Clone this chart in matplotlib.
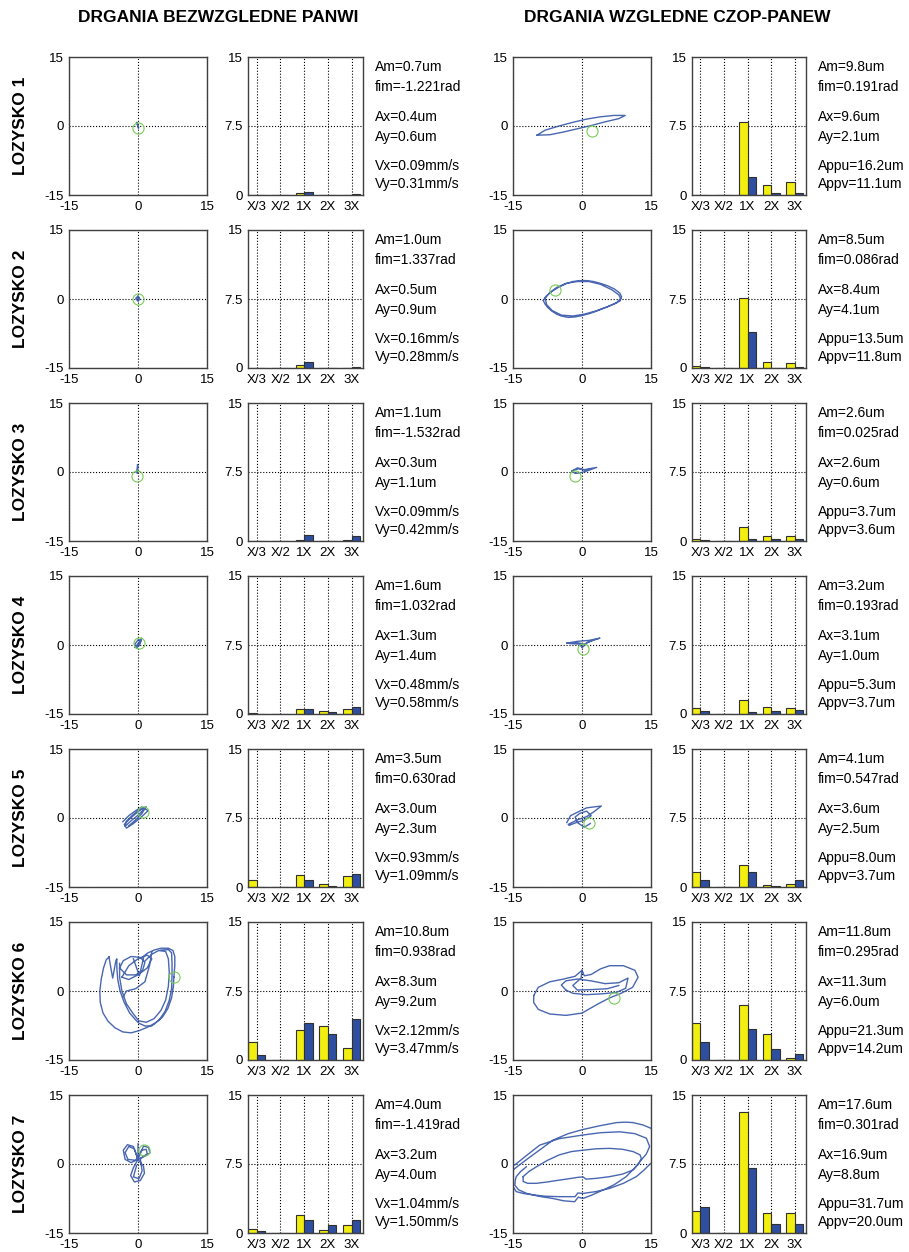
import numpy as np
import matplotlib.pyplot as plt

plt.rcParams['font.family'] = ['Liberation Sans', 'DejaVu Sans']
plt.rcParams['axes.unicode_minus'] = False

# ---- data -------------------------------------------------------------
harm_labels = ['X/3', 'X/2', '1X', '2X', '3X']
row_labels = ['LOZYSKO 1', 'LOZYSKO 2', 'LOZYSKO 3', 'LOZYSKO 4',
              'LOZYSKO 5', 'LOZYSKO 6', 'LOZYSKO 7']

# bar heights, absolute (panew) -- yellow / blue
abs_yellow = [[0, 0, 0.25, 0, 0.05],
              [0, 0, 0.35, 0.03, 0.05],
              [0, 0, 0.08, 0.05, 0.08],
              [0.12, 0, 0.5, 0.35, 0.55],
              [0.73, 0, 1.27, 0.3, 1.16],
              [2.0, 0, 3.3, 3.75, 1.27],
              [0.4, 0, 1.93, 0.3, 0.84]]
abs_blue = [[0, 0, 0.36, 0, 0.08],
            [0, 0, 0.7, 0.05, 0.08],
            [0, 0, 0.6, 0.05, 0.54],
            [0.05, 0, 0.5, 0.2, 0.8],
            [0, 0, 0.73, 0.1, 1.38],
            [0.55, 0, 4.04, 2.87, 4.5],
            [0.22, 0, 1.38, 0.84, 1.38]]
# bar heights, relative (czop-panew)
rel_yellow = [[0, 0, 7.93, 1.05, 1.38],
              [0.2, 0, 7.58, 0.7, 0.56],
              [0.18, 0, 1.55, 0.5, 0.55],
              [0.6, 0, 1.55, 0.75, 0.65],
              [1.67, 0, 2.4, 0.18, 0.3],
              [4.04, 0, 5.96, 2.8, 0.18],
              [2.4, 0, 13.2, 2.18, 2.18]]
rel_blue = [[0, 0, 1.92, 0.25, 0.25],
            [0.1, 0, 3.95, 0.05, 0.1],
            [0.07, 0, 0.22, 0.2, 0.25],
            [0.3, 0, 0.25, 0.35, 0.45],
            [0.73, 0, 1.64, 0.07, 0.73],
            [2.0, 0, 3.38, 1.16, 0.62],
            [2.84, 0, 7.1, 0.98, 0.98]]

abs_text = [['Am=0.7um', 'fim=-1.221rad', 'Ax=0.4um', 'Ay=0.6um', 'Vx=0.09mm/s', 'Vy=0.31mm/s'],
            ['Am=1.0um', 'fim=1.337rad', 'Ax=0.5um', 'Ay=0.9um', 'Vx=0.16mm/s', 'Vy=0.28mm/s'],
            ['Am=1.1um', 'fim=-1.532rad', 'Ax=0.3um', 'Ay=1.1um', 'Vx=0.09mm/s', 'Vy=0.42mm/s'],
            ['Am=1.6um', 'fim=1.032rad', 'Ax=1.3um', 'Ay=1.4um', 'Vx=0.48mm/s', 'Vy=0.58mm/s'],
            ['Am=3.5um', 'fim=0.630rad', 'Ax=3.0um', 'Ay=2.3um', 'Vx=0.93mm/s', 'Vy=1.09mm/s'],
            ['Am=10.8um', 'fim=0.938rad', 'Ax=8.3um', 'Ay=9.2um', 'Vx=2.12mm/s', 'Vy=3.47mm/s'],
            ['Am=4.0um', 'fim=-1.419rad', 'Ax=3.2um', 'Ay=4.0um', 'Vx=1.04mm/s', 'Vy=1.50mm/s']]
rel_text = [['Am=9.8um', 'fim=0.191rad', 'Ax=9.6um', 'Ay=2.1um', 'Appu=16.2um', 'Appv=11.1um'],
            ['Am=8.5um', 'fim=0.086rad', 'Ax=8.4um', 'Ay=4.1um', 'Appu=13.5um', 'Appv=11.8um'],
            ['Am=2.6um', 'fim=0.025rad', 'Ax=2.6um', 'Ay=0.6um', 'Appu=3.7um', 'Appv=3.6um'],
            ['Am=3.2um', 'fim=0.193rad', 'Ax=3.1um', 'Ay=1.0um', 'Appu=5.3um', 'Appv=3.7um'],
            ['Am=4.1um', 'fim=0.547rad', 'Ax=3.6um', 'Ay=2.5um', 'Appu=8.0um', 'Appv=3.7um'],
            ['Am=11.8um', 'fim=0.295rad', 'Ax=11.3um', 'Ay=6.0um', 'Appu=21.3um', 'Appv=14.2um'],
            ['Am=17.6um', 'fim=0.301rad', 'Ax=16.9um', 'Ay=8.8um', 'Appu=31.7um', 'Appv=20.0um']]

# orbit traces (um); nan = pen up
nan = np.nan
abs_orb_x = [
    [-0.3, -0.1, 0.1, 0.15, -0.05, -0.25, -0.3],
    [-0.4, 0.0, 0.4, 0.0, -0.4, 0.3, -0.2],
    [-0.1, -0.25, -0.15, 0.0, -0.1],
    [-0.6, 0.2, 0.8, 0.5, -0.3, -0.7, 0.1, 0.6, 0.2, -0.4, -0.6],
    [-3.3, -2.0, -0.5, 0.8, 2.2, 0.5, -1.0, -2.5, -3.0, -1.6, -0.2, 1.2, 1.8, 0.0, -1.5,
     -2.8, -2.6, -1.2, 0.3, 1.6, 0.8, -0.5, -2.0],
    [7.8, 8.0, 8.0, 7.6, 6.6, 5.0, 3.5, 2.0, 0.8, nan,
     -6.3, -6.9, -7.5, -8.0, -8.3, -8.2, -7.6, -6.5, -5.0, -3.3, -1.5, 0.3, 2.0, 3.7, 5.3,
     6.5, 7.3, 7.7, 7.8, nan,
     -6.3, -5.9, -5.5, -5.2, -4.8, -4.6, -4.6, -4.4, -3.9, -3.0, -1.8, -0.5, 0.2, 1.5, 3.0,
     4.6, 5.9, 6.8, 7.3, 7.4, 7.4, 7.3, 6.6, 5.0, nan,
     -4.0, -4.0, -3.5, -2.5, -1.0, 0.2, 1.8, 3.5, 5.0, 6.0, 6.6, 6.8, 6.6, 6.0, 4.5, 3.0,
     1.5, nan,
     -4.0, -3.2, -1.5, 0.5, 1.5, 1.0, -0.5, -2.5, -4.0, nan,
     -3.5, -2.0, 0.0, 2.0, 3.0, 2.0, 0.0, -2.0, -3.5, nan,
     -1.0, 0.3, 1.2, nan,
     3.0, 2.5, 1.5, -0.5, -2.5, -3.2],
    [0.0, 0.0, -1.0, -2.3, -3.2, -2.8, -1.5, 0.0, 1.2, 2.3, 2.6, 1.5, 0.0, 1.2, 1.4, 0.5,
     -0.8, -1.6, -1.0, 0.0, -0.8, -2.0, -2.8, -2.2, -0.5, 0.8, 1.8, 2.0, 0.5, 0.9, 0.2,
     -1.0, -0.3],
]
abs_orb_y = [
    [0.7, 0.1, -0.5, -0.4, 0.2, 0.8, 0.7],
    [0.2, 0.7, 0.0, -0.5, 0.2, 0.3, -0.2],
    [1.5, 0.2, -0.3, 1.2, 1.5],
    [-0.5, 0.6, 1.5, 0.4, -0.7, 0.2, 1.2, 0.9, -0.2, -0.3, -0.5],
    [-0.8, 0.5, 1.6, 2.4, 1.6, 0.0, -1.2, -2.2, -1.4, 0.0, 1.2, 2.2, 2.4, 0.6, -0.6,
     -1.8, -0.8, 0.6, 1.8, 2.2, 0.9, -0.4, -1.7],
    [3.0, 5.5, 7.5, 8.8, 9.3, 9.3, 8.9, 8.2, 7.2, nan,
     7.4, 6.8, 5.0, 2.5, 0.0, -2.5, -4.8, -6.6, -8.0, -8.9, -9.1, -8.6, -7.9, -7.0, -5.7,
     -3.8, -1.5, 1.0, 3.0, nan,
     7.4, 5.0, 2.8, 4.5, 6.6, 7.0, 5.0, 2.5, 0.0, -2.5, -4.8, -6.3, -7.0, -7.6, -7.6,
     -6.3, -4.4, -2.0, 0.5, 3.5, 6.0, 8.3, 9.0, 8.9, nan,
     6.0, 3.0, 0.0, -2.8, -5.0, -6.5, -6.8, -6.0, -4.2, -2.0, 1.0, 4.0, 7.0, 8.6, 8.8, 8.0,
     6.5, nan,
     5.0, 6.6, 7.5, 7.3, 6.2, 4.5, 3.5, 3.5, 5.0, nan,
     3.0, 5.5, 7.0, 7.8, 7.0, 5.0, 3.5, 2.5, 3.0, nan,
     7.0, 3.3, 7.2, nan,
     8.5, 5.5, 2.0, 0.5, 0.0, -1.2],
    [4.4, 1.0, 3.8, 4.2, 3.0, 1.0, 0.3, 1.0, 3.9, 3.6, 2.4, 1.7, 1.0, -0.5, -2.0, -3.6,
     -3.9, -2.5, -0.8, 1.0, 3.3, 3.8, 2.5, 1.0, 0.8, 3.0, 3.2, 2.2, 1.2, -1.5, -3.2,
     -2.8, -0.3],
]
rel_orb_x = [
    [-9.8, -8.0, -5.0, -2.0, 1.0, 4.0, 7.0, 9.4, 8.0, 5.0, 2.0, -1.0, -4.0, -7.0, -9.8],
    [-8.4, -7.8, -7.0, -6.0, -5.0, -3.5, -2.0, -0.5, 1.0, 2.5, 4.0, 5.5, 7.0, 8.2, 8.6, 8.3,
     7.2, 6.0, 4.5, 3.0, 1.5, 0.0, -1.5, -3.0, -4.5, -5.5, -6.6, -7.5, -8.1, -8.4, nan,
     -8.0, -7.0, -5.5, -3.5, -1.0, 1.5, 4.0, 6.5, 8.0, 8.4, 7.5, 5.5, 3.0, 0.5, -2.0, -4.5,
     -6.5, -7.7, -8.0],
    [-2.2, -1.0, 0.5, 3.2, 1.0, -0.5, -1.5, -2.2, -0.8, 0.8, 2.0],
    [-3.3, -1.0, 1.5, 3.9, 1.2, 0.3, 0.0, -0.5, -2.5, -3.3, -1.0, 0.5, 2.5],
    [-3.3, -2.5, -0.5, 1.0, 2.5, 4.2, 2.5, 1.0, -1.0, -3.0, -2.8, -1.0, 0.5, 2.0, 1.0, -0.5,
     -1.5, -1.0, 0.5, 1.8],
    [-10.5, -9.5, -7.0, -4.0, -1.5, 0.0, 0.5, 2.0, 4.0, 6.0, 9.0, 11.5, 12.2, 11.0, 8.5,
     6.0, 3.5, 0.0, -3.5, -7.0, -9.5, -10.5, -10.5, nan,
     -3.5, -4.5, -3.5, -1.0, 2.0, 5.0, 8.0, 10.0, 9.5, 7.5, 4.5, 1.0, -2.0, -3.5, nan,
     0.0, -0.2, -2.0, -1.0, 2.0, 5.5, 8.0],
    [-16.0, -15.0, -13.2, -11.4, -9.0, -6.3, -3.0, 0.2, 3.8, 7.5, 9.5, 11.1, 13.2, 14.9,
     16.0, nan,
     -14.6, -12.0, -9.2, -5.0, 0.2, 4.0, 8.2, 11.5, 14.0, 14.7, 14.0, 12.9, 11.5, 9.6, 7.0,
     4.6, 2.0, 0.2, -0.8, -1.6, -4.0, -6.3, -9.5, -12.0, -13.8, -14.6, -14.5, -14.3, -13.3,
     -12.1, nan,
     -12.8, -11.5, -9.9, -7.5, -4.9, -2.3, 0.2, 3.0, 6.0, 8.8, 11.1, 12.6, 12.9, 12.3, 11.1,
     8.8, 6.0, 3.3, 0.9, 0.2, -0.9, -2.8, -4.9, -7.5, -9.9, -11.8, -12.8, -12.8, nan,
     16.0, 14.9, 13.5, 11.8, 9.0, 6.0, 3.0, 0.2, -0.9, -1.5, -4.9, -8.0, -10.7, -12.8,
     -14.3, -15.0, -16.0],
]
rel_orb_y = [
    [-2.0, -0.9, 0.0, 0.8, 1.5, 2.0, 2.3, 2.3, 1.6, 0.9, 0.1, -0.6, -1.3, -1.9, -2.0],
    [-0.3, 0.6, 1.3, 2.0, 2.6, 3.3, 3.8, 4.0, 4.0, 3.8, 3.4, 2.9, 2.2, 1.3, 0.5, -0.4,
     -1.0, -1.5, -2.1, -2.7, -3.2, -3.6, -3.9, -4.0, -3.7, -3.3, -2.6, -1.8, -1.0, -0.3, nan,
     0.2, 1.4, 2.5, 3.4, 3.8, 3.8, 3.2, 2.0, 0.9, 0.1, -0.8, -1.7, -2.6, -3.3, -3.7, -3.5,
     -2.5, -1.2, 0.2],
    [0.2, 0.9, 0.5, 1.0, 0.2, -0.2, -0.3, 0.2, 0.7, 0.4, 0.7],
    [0.4, 0.8, 1.0, 1.5, 0.6, -0.3, -0.6, 0.2, 0.3, 0.4, 0.5, 0.2, 1.1],
    [-1.0, 0.5, 1.5, 2.2, 2.4, 2.6, 1.3, 0.3, -0.4, -1.4, -1.6, -0.9, -0.5, 0.5, 1.5, 1.0,
     0.2, -1.0, -2.0, -1.2],
    [-1.0, 0.8, 2.0, 2.6, 3.2, 4.5, 3.3, 3.6, 4.8, 5.5, 5.5, 4.5, 3.0, 0.8, -0.5,
     -1.5, -2.8, -4.8, -5.3, -5.0, -4.0, -2.5, -1.0, nan,
     0.2, 1.3, 2.2, 2.6, 2.2, 1.6, 1.8, 2.8, 0.6, -0.3, -0.6, -0.8, -0.5, 0.2, nan,
     4.5, 2.8, 1.2, 0.2, 0.3, 0.5, 1.2],
    [-2.2, -1.3, 0.1, 1.45, 3.2, 5.2, 6.6, 7.5, 8.3, 9.0, 9.1, 9.0, 8.5, 7.8, 7.2, nan,
     -0.2, 1.9, 4.1, 5.5, 6.3, 6.8, 7.0, 6.6, 5.6, 3.8, 2.2, 0.9, -0.8, -2.75, -4.5,
     -5.65, -6.8, -7.5, -7.2, -8.2, -8.0, -7.5, -7.0, -6.4, -5.6, -4.6, -3.5, -2.75, -1.6,
     -0.6, nan,
     -2.75, -1.6, -0.6, 0.8, 2.0, 2.7, 3.0, 3.3, 3.4, 3.2, 2.7, 2.0, 1.2, 0.0, -1.3,
     -2.2, -2.75, -3.1, -3.3, -2.8, -2.9, -3.2, -3.5, -3.9, -4.2, -4.2, -3.8, -2.75, nan,
     -0.6, 0.1, -1.3, -2.75, -4.2, -5.3, -6.0, -6.4, -6.3, -7.1, -7.1, -7.0, -6.7, -6.4,
     -6.0, -4.9, -4.4],
]
abs_marker = [(0.0, -0.4), (0.0, 0.1), (-0.2, -0.9), (0.3, 0.4), (1.1, 1.3), (7.8, 3.0), (1.2, 3.0)]
rel_marker = [(2.1, -1.1), (-5.9, 2.0), (-1.5, -0.8), (0.3, -0.9), (1.6, -1.1), (7.0, -1.5), None]

# ---- layout (pixels of a 909x1252 canvas) -------------------------------
W, H = 909, 1252
fig = plt.figure(figsize=(W / 100, H / 100), dpi=100)

ORB_COLOR = '#3556a8'
YEL = '#f2ee10'
BLU = '#2e4f9f'
SPINE = '#404040'
text_offsets = [10, 30, 60, 80, 109, 127]


def px_axes(x0, top, w, h):
    return fig.add_axes([x0 / W, 1 - (top + h) / H, w / W, h / H])


def style(ax):
    for s in ax.spines.values():
        s.set_color(SPINE)
        s.set_linewidth(1.0)
    ax.tick_params(length=0, labelsize=9.5, pad=4)
    ax.set_axisbelow(True)


def orbit(ax, xs, ys, mk):
    ax.plot(xs, ys, color=ORB_COLOR, lw=1.0, alpha=0.9)
    if mk is not None:
        ax.plot([mk[0]], [mk[1]], 'o', ms=8, mfc='none', mec='#77cc55', mew=0.8)
    ax.set_xlim(-15, 15)
    ax.set_ylim(-15, 15)
    ax.set_xticks([-15, 0, 15])
    ax.set_yticks([-15, 0, 15])
    ax.grid(True, color='black', linestyle=':', linewidth=0.8)
    style(ax)


def bars(ax, yel, blu):
    pos = np.arange(1, 6)
    ax.bar(pos - 0.36, yel, width=0.36, align='edge', color=YEL,
           edgecolor='#303030', linewidth=0.8)
    ax.bar(pos, blu, width=0.36, align='edge', color=BLU,
           edgecolor='#303030', linewidth=0.8)
    ax.set_xlim(0.64, 5.48)
    ax.set_ylim(0, 15)
    ax.set_xticks(pos)
    ax.set_xticklabels(harm_labels)
    ax.set_yticks([0, 7.5, 15])
    ax.set_yticklabels(['0', '7.5', '15'])
    ax.grid(True, color='black', linestyle=':', linewidth=0.8)
    style(ax)


for i in range(7):
    top = 57 + 173 * i
    ax1 = px_axes(69, top, 138, 138)
    orbit(ax1, abs_orb_x[i], abs_orb_y[i], abs_marker[i])
    ax2 = px_axes(248, top, 115, 138)
    bars(ax2, abs_yellow[i], abs_blue[i])
    ax3 = px_axes(513, top, 138, 138)
    orbit(ax3, rel_orb_x[i], rel_orb_y[i], rel_marker[i])
    ax4 = px_axes(692, top, 114, 138)
    bars(ax4, rel_yellow[i], rel_blue[i])

    for txt, off in zip(abs_text[i], text_offsets):
        fig.text(375 / W, 1 - (top + off) / H, txt, fontsize=10, va='center', ha='left')
    for txt, off in zip(rel_text[i], text_offsets):
        fig.text(818 / W, 1 - (top + off) / H, txt, fontsize=10, va='center', ha='left')

    fig.text(21 / W, 1 - (top + 69) / H, row_labels[i], rotation=90, fontsize=12.5,
             fontweight='bold', va='center', ha='center')

fig.text(218 / W, 1 - 17 / H, 'DRGANIA BEZWZGLEDNE PANWI', fontsize=12.5,
         fontweight='bold', ha='center', va='center')
fig.text(677 / W, 1 - 17 / H, 'DRGANIA WZGLEDNE CZOP-PANEW', fontsize=12.5,
         fontweight='bold', ha='center', va='center')

fig.savefig('out.png', dpi=100)
